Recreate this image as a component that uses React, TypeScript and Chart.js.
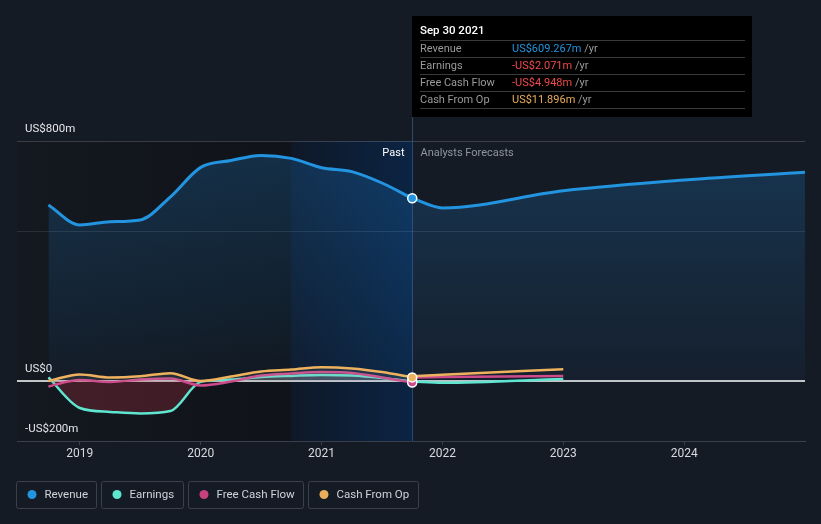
import React, { useEffect, useRef } from "react";
import { Chart, registerables } from "chart.js";

Chart.register(...registerables);

const BG = "#151b25";
const FONT = "Roboto, 'Noto Sans', sans-serif";

const yearTicks = [2019, 2020, 2021, 2022, 2023, 2024];

const pastDates = [2018.74, 2019, 2019.25, 2019.5, 2019.75, 2020, 2020.25, 2020.5, 2020.75, 2021, 2021.25, 2021.5, 2021.75];
const revenuePast = [587, 520, 531, 537, 614, 712, 735, 752, 742, 711, 698, 660, 609];
const earningsPast = [12, -90, -103, -108, -100, -3, 5, 13, 17, 20, 18, 10, -2];
const fcfPast = [-18, 3, -3, 5, 8, -15, -2, 18, 25, 30, 27, 12, -5];
const cfoPast = [0, 22, 12, 16, 26, 0, 15, 32, 38, 46, 42, 30, 12];

const revenueForecastDates = [2021.75, 2022, 2023, 2024, 2025];
const revenueForecast = [609, 577, 634, 670, 696];
const smallForecastDates = [2021.75, 2022, 2023];
const earningsForecast = [-2, -6, 7];
const fcfForecast = [12, 13, 17];
const cfoForecast = [16, 21, 39];

const yGridValues = [800, 500];
const yLabelValues = [800, 0, -200];
const yLabelTexts = ["US$800m", "US$0", "-US$200m"];

const nowDate = 2021.75;
const highlightStart = 2020.75;

const tooltipTitle = "Sep 30 2021";
const tooltipRows = [
  { label: "Revenue", value: "US$609.267m", color: "#2394df" },
  { label: "Earnings", value: "-US$2.071m", color: "#f04a4a" },
  { label: "Free Cash Flow", value: "-US$4.948m", color: "#f04a4a" },
  { label: "Cash From Op", value: "US$11.896m", color: "#e9ae5c" },
];

const legendItems = [
  { label: "Revenue", color: "#2394df" },
  { label: "Earnings", color: "#5fe6d1" },
  { label: "Free Cash Flow", color: "#c7417f" },
  { label: "Cash From Op", color: "#e8ae5b" },
];

const COL_REV = "#2394df";
const COL_EARN = "#5fe6d1";
const COL_FCF = "#cd4b8b";
const COL_CFO = "#eeb25f";

const pts = (dates: number[], vals: number[]) => dates.map((d, i) => ({ x: d, y: vals[i] }));

const revFill = (ctx: any) => {
  const chart = ctx.chart;
  const area = chart.chartArea;
  if (!area) return "rgba(33,150,243,0.12)";
  const y0 = chart.scales.y.getPixelForValue(0);
  const g = chart.ctx.createLinearGradient(0, area.top, 0, y0);
  g.addColorStop(0, "rgba(33,150,243,0.22)");
  g.addColorStop(1, "rgba(33,150,243,0.04)");
  return g;
};

const decorPlugin = {
  id: "decor",
  beforeDatasetsDraw(chart: any) {
    const { ctx, chartArea: a, scales } = chart;
    const xs = scales.x, ys = scales.y;
    const hx = xs.getPixelForValue(highlightStart);
    const nx = xs.getPixelForValue(nowDate);
    ctx.save();
    let g = ctx.createLinearGradient(a.left, 0, hx, 0);
    g.addColorStop(0, "#141820");
    g.addColorStop(1, "#101318");
    ctx.fillStyle = g;
    ctx.fillRect(a.left, a.top, hx - a.left, a.bottom - a.top);
    g = ctx.createLinearGradient(hx, 0, nx, 0);
    g.addColorStop(0, "#0f1828");
    g.addColorStop(1, "#0b2443");
    ctx.fillStyle = g;
    ctx.fillRect(hx, a.top, nx - hx, a.bottom - a.top);
    yGridValues.forEach((v, i) => {
      const y = Math.round(ys.getPixelForValue(v)) + 0.5;
      ctx.strokeStyle = i === 0 ? "rgba(255,255,255,0.17)" : "rgba(255,255,255,0.1)";
      ctx.lineWidth = 1;
      ctx.beginPath();
      ctx.moveTo(a.left, y);
      ctx.lineTo(a.right, y);
      ctx.stroke();
    });
    const zy = ys.getPixelForValue(0);
    ctx.strokeStyle = "#ffffff";
    ctx.lineWidth = 1.5;
    ctx.beginPath();
    ctx.moveTo(a.left, zy);
    ctx.lineTo(a.right, zy);
    ctx.stroke();
    ctx.font = `11.5px ${FONT}`;
    ctx.fillStyle = "#e4e6ea";
    ctx.textAlign = "left";
    ctx.textBaseline = "middle";
    yLabelValues.forEach((v, i) => {
      ctx.fillText(yLabelTexts[i], 25, ys.getPixelForValue(v) - 12);
    });
    ctx.restore();
  },
  afterDatasetsDraw(chart: any) {
    const { ctx, chartArea: a, scales } = chart;
    const xs = scales.x, ys = scales.y;
    const nx = Math.round(xs.getPixelForValue(nowDate)) + 0.5;
    ctx.save();
    ctx.strokeStyle = "rgba(70,110,170,0.55)";
    ctx.lineWidth = 1;
    ctx.beginPath();
    ctx.moveTo(nx, 16);
    ctx.lineTo(nx, a.bottom);
    ctx.stroke();
    const dot = (v: number, c: string) => {
      ctx.beginPath();
      ctx.arc(xs.getPixelForValue(nowDate), ys.getPixelForValue(v), 4.5, 0, Math.PI * 2);
      ctx.fillStyle = c;
      ctx.fill();
      ctx.lineWidth = 1.5;
      ctx.strokeStyle = "#ffffff";
      ctx.stroke();
    };
    dot(earningsPast[earningsPast.length - 1], COL_EARN);
    dot(fcfPast[fcfPast.length - 1], COL_FCF);
    dot(cfoPast[cfoPast.length - 1], COL_CFO);
    dot(revenuePast[revenuePast.length - 1], COL_REV);
    ctx.font = `11px ${FONT}`;
    ctx.textBaseline = "middle";
    ctx.textAlign = "right";
    ctx.fillStyle = "#ffffff";
    ctx.fillText("Past", nx - 8, 153);
    ctx.textAlign = "left";
    ctx.fillStyle = "#8f959e";
    ctx.fillText("Analysts Forecasts", nx + 8, 153);
    const tx = Math.round(xs.getPixelForValue(nowDate));
    ctx.fillStyle = "#000000";
    ctx.fillRect(tx, 16, 340, 101);
    ctx.font = `500 11.5px ${FONT}`;
    ctx.fillStyle = "#ffffff";
    ctx.fillText(tooltipTitle, tx + 8, 31);
    ctx.strokeStyle = "#3a3a3a";
    ctx.lineWidth = 1;
    [40.5, 57.5, 74.5, 91.5, 108.5].forEach((ly) => {
      ctx.beginPath();
      ctx.moveTo(tx + 8, ly);
      ctx.lineTo(tx + 333, ly);
      ctx.stroke();
    });
    tooltipRows.forEach((r, i) => {
      const ry = 49 + i * 17;
      ctx.font = `11px ${FONT}`;
      ctx.fillStyle = "#9a9a9a";
      ctx.fillText(r.label, tx + 8, ry);
      ctx.fillStyle = r.color;
      ctx.fillText(r.value, tx + 100, ry);
      const w = ctx.measureText(r.value).width;
      ctx.fillStyle = "#9a9a9a";
      ctx.fillText(" /yr", tx + 100 + w, ry);
    });
    ctx.font = `11.5px ${FONT}`;
    let lx = 16.5;
    legendItems.forEach((it) => {
      const tw = ctx.measureText(it.label).width;
      const bw = Math.round(28 + tw + 9);
      ctx.strokeStyle = "#3b404a";
      ctx.lineWidth = 1;
      ctx.beginPath();
      (ctx as any).roundRect(lx, 481.5, bw, 27, 2);
      ctx.stroke();
      ctx.beginPath();
      ctx.arc(lx + 15.5, 494.5, 4.5, 0, Math.PI * 2);
      ctx.fillStyle = it.color;
      ctx.fill();
      ctx.fillStyle = "#d0d3d9";
      ctx.textAlign = "left";
      ctx.textBaseline = "middle";
      ctx.fillText(it.label, lx + 28, 495);
      lx += bw + 5;
    });
    ctx.restore();
  },
};

export default function App() {
  const ref = useRef<HTMLCanvasElement>(null);
  useEffect(() => {
    document.body.style.margin = "0";
    document.body.style.background = BG;
    Chart.defaults.font.family = FONT;
    const line = (data: any[], color: string, order: number, fill: any, width = 2.5) => ({
      data,
      borderColor: color,
      borderWidth: width,
      pointRadius: 0,
      cubicInterpolationMode: "monotone" as const,
      fill,
      order,
      backgroundColor: "transparent",
    });
    const chart = new Chart(ref.current as HTMLCanvasElement, {
      type: "line",
      data: {
        datasets: [
          { ...line(pts(pastDates, revenuePast), COL_REV, 10, "origin", 3), backgroundColor: revFill },
          { ...line(pts(revenueForecastDates, revenueForecast), COL_REV, 10, "origin", 3), backgroundColor: revFill },
          line(pts(pastDates, earningsPast), COL_EARN, 5, { target: "origin", above: "rgba(170,180,190,0.16)", below: "rgba(215,55,75,0.24)" }),
          line(pts(pastDates, fcfPast), COL_FCF, 4, { target: "origin", above: "rgba(170,170,190,0.12)", below: "rgba(200,60,120,0.12)" }),
          line(pts(pastDates, cfoPast), COL_CFO, 3, { target: "origin", above: "rgba(170,170,170,0.12)", below: "rgba(170,170,170,0.12)" }),
          line(pts(smallForecastDates, earningsForecast), COL_EARN, 5, false),
          line(pts(smallForecastDates, fcfForecast), COL_FCF, 4, false),
          line(pts(smallForecastDates, cfoForecast), COL_CFO, 3, false),
        ],
      },
      options: {
        responsive: false,
        animation: false,
        devicePixelRatio: 1,
        layout: { padding: { left: 17, right: 16, top: 141, bottom: 0 } },
        plugins: { legend: { display: false }, tooltip: { enabled: false } },
        scales: {
          x: {
            type: "linear",
            min: 2018.48,
            max: 2025,
            afterBuildTicks: (s: any) => {
              s.ticks = yearTicks.map((v) => ({ value: v }));
            },
            afterFit: (s: any) => {
              s.height = 83;
            },
            grid: { display: true, drawOnChartArea: false, drawTicks: true, tickLength: 4, color: "#3a404b" },
            border: { display: true, color: "#3a404b", width: 1 },
            ticks: {
              color: "#d7dae0",
              font: { size: 12, family: FONT },
              padding: 2,
              maxRotation: 0,
              autoSkip: false,
              callback: (v: any) => String(v),
            },
          },
          y: { display: false, min: -200, max: 800 },
        },
      },
      plugins: [decorPlugin],
    });
    return () => chart.destroy();
  }, []);
  return (
    <div style={{ position: "fixed", left: 0, top: 0, width: 821, height: 524, background: BG }}>
      <canvas ref={ref} width={821} height={524} style={{ display: "block", width: 821, height: 524 }} />
    </div>
  );
}
